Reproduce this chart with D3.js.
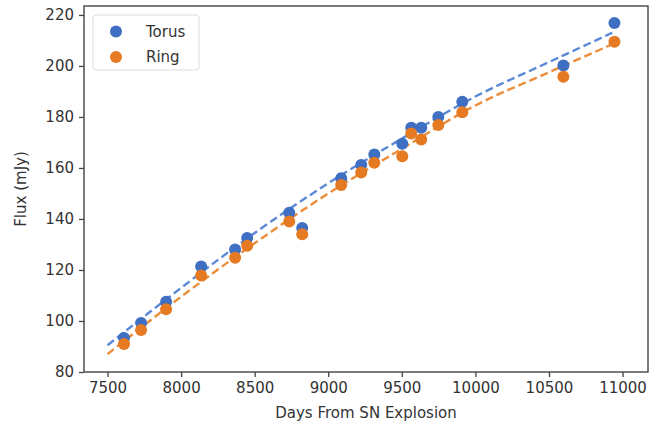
<!DOCTYPE html>
<html>
<head>
<meta charset="utf-8">
<script src="https://cdn.jsdelivr.net/npm/d3@7"></script>
<style>
  html, body { margin: 0; padding: 0; background: #fff; }
  svg { display: block; }
  text { font-family: "DejaVu Sans", sans-serif; fill: #333; }
</style>
</head>
<body>
<div id="chart"></div>
<script>
// ---- data ----
const days  = [7612, 7728, 7898, 8136, 8367, 8449, 8735, 8823, 9088, 9224, 9313, 9503, 9564, 9632, 9748, 9911, 10598, 10945];
const torus = [93.3, 99.2, 107.5, 121.4, 128.0, 132.5, 142.4, 136.5, 156.0, 161.2, 165.3, 169.5, 175.8, 175.8, 180.0, 186.0, 200.2, 216.8];
const ring  = [91.0, 96.5, 104.6, 117.8, 124.8, 129.5, 139.0, 134.0, 153.3, 158.2, 162.0, 164.6, 173.5, 171.2, 176.8, 181.8, 195.8, 209.5];
// fitted (dashed) curves
const fitDays  = [7500, 8000, 8500, 9000, 9500, 10000, 10500, 10930];
const torusFit = [90.5, 113.0, 134.5, 154.0, 171.5, 188.0, 201.5, 213.0];
const ringFit  = [87.0, 109.5, 130.5, 150.0, 167.5, 184.5, 197.5, 208.5];
const xTicks = [7500, 8000, 8500, 9000, 9500, 10000, 10500, 11000];
const yTicks = [80, 100, 120, 140, 160, 180, 200, 220];
const seriesNames = ["Torus", "Ring"];

const W = 671, H = 428;
const colBlue = "#3e6fc2", colOrange = "#e57a22";
const lineBlue = "#5b89d6", lineOrange = "#ec8d3a";

const svg = d3.select("#chart").append("svg").attr("width", W).attr("height", H);

const x = d3.scaleLinear().domain([7340, 11173]).range([84, 648]);
const y = d3.scaleLinear().domain([80, 223.5]).range([372, 6]);

// axes
const xAxis = d3.axisBottom(x).tickValues(xTicks).tickFormat(d3.format("d")).tickSize(5).tickPadding(5);
const yAxis = d3.axisLeft(y).tickValues(yTicks).tickFormat(d3.format("d")).tickSize(5).tickPadding(5);

const gx = svg.append("g").attr("transform", `translate(0,${y.range()[0]})`).call(xAxis);
const gy = svg.append("g").attr("transform", `translate(${x.range()[0]},0)`).call(yAxis);
[gx, gy].forEach(g => {
  g.select(".domain").remove();
  g.selectAll(".tick line").attr("stroke", "#444").attr("stroke-width", 1.3);
  g.selectAll(".tick text").attr("font-size", 15).attr("fill", "#333").attr("font-family", "DejaVu Sans, sans-serif");
});

// frame
svg.append("rect")
  .attr("x", x.range()[0]).attr("y", y.range()[1])
  .attr("width", x.range()[1] - x.range()[0]).attr("height", y.range()[0] - y.range()[1])
  .attr("fill", "none").attr("stroke", "#444").attr("stroke-width", 1.4);

// fitted lines
const line = d3.line().x(d => x(d[0])).y(d => y(d[1])).curve(d3.curveMonotoneX);
svg.append("path").datum(fitDays.map((d, i) => [d, torusFit[i]]))
  .attr("d", line).attr("fill", "none").attr("stroke", lineBlue)
  .attr("stroke-width", 2.4).attr("stroke-dasharray", "8,4");
svg.append("path").datum(fitDays.map((d, i) => [d, ringFit[i]]))
  .attr("d", line).attr("fill", "none").attr("stroke", lineOrange)
  .attr("stroke-width", 2.4).attr("stroke-dasharray", "8,4");

// scatter points
svg.append("g").selectAll("circle").data(days.map((d, i) => [d, torus[i]]))
  .join("circle").attr("cx", d => x(d[0])).attr("cy", d => y(d[1])).attr("r", 6).attr("fill", colBlue);
svg.append("g").selectAll("circle").data(days.map((d, i) => [d, ring[i]]))
  .join("circle").attr("cx", d => x(d[0])).attr("cy", d => y(d[1])).attr("r", 6).attr("fill", colOrange);

// axis labels
svg.append("text").attr("x", (x.range()[0] + x.range()[1]) / 2).attr("y", 418)
  .attr("text-anchor", "middle").attr("font-size", 15).text("Days From SN Explosion");
svg.append("text").attr("transform", `translate(26,${(y.range()[0] + y.range()[1]) / 2}) rotate(-90)`)
  .attr("text-anchor", "middle").attr("font-size", 15).text("Flux (mJy)");

// legend
const lg = svg.append("g");
lg.append("rect").attr("x", 93).attr("y", 15).attr("width", 106).attr("height", 55).attr("rx", 3)
  .attr("fill", "#fff").attr("fill-opacity", 0.8).attr("stroke", "#ddd").attr("stroke-width", 1);
[colBlue, colOrange].forEach((c, i) => {
  lg.append("circle").attr("cx", 116).attr("cy", 31.5 + i * 25.5).attr("r", 6).attr("fill", c);
  lg.append("text").attr("x", 146).attr("y", 31.5 + i * 25.5).attr("dy", "0.35em")
    .attr("font-size", 15).text(seriesNames[i]);
});
</script>
</body>
</html>
